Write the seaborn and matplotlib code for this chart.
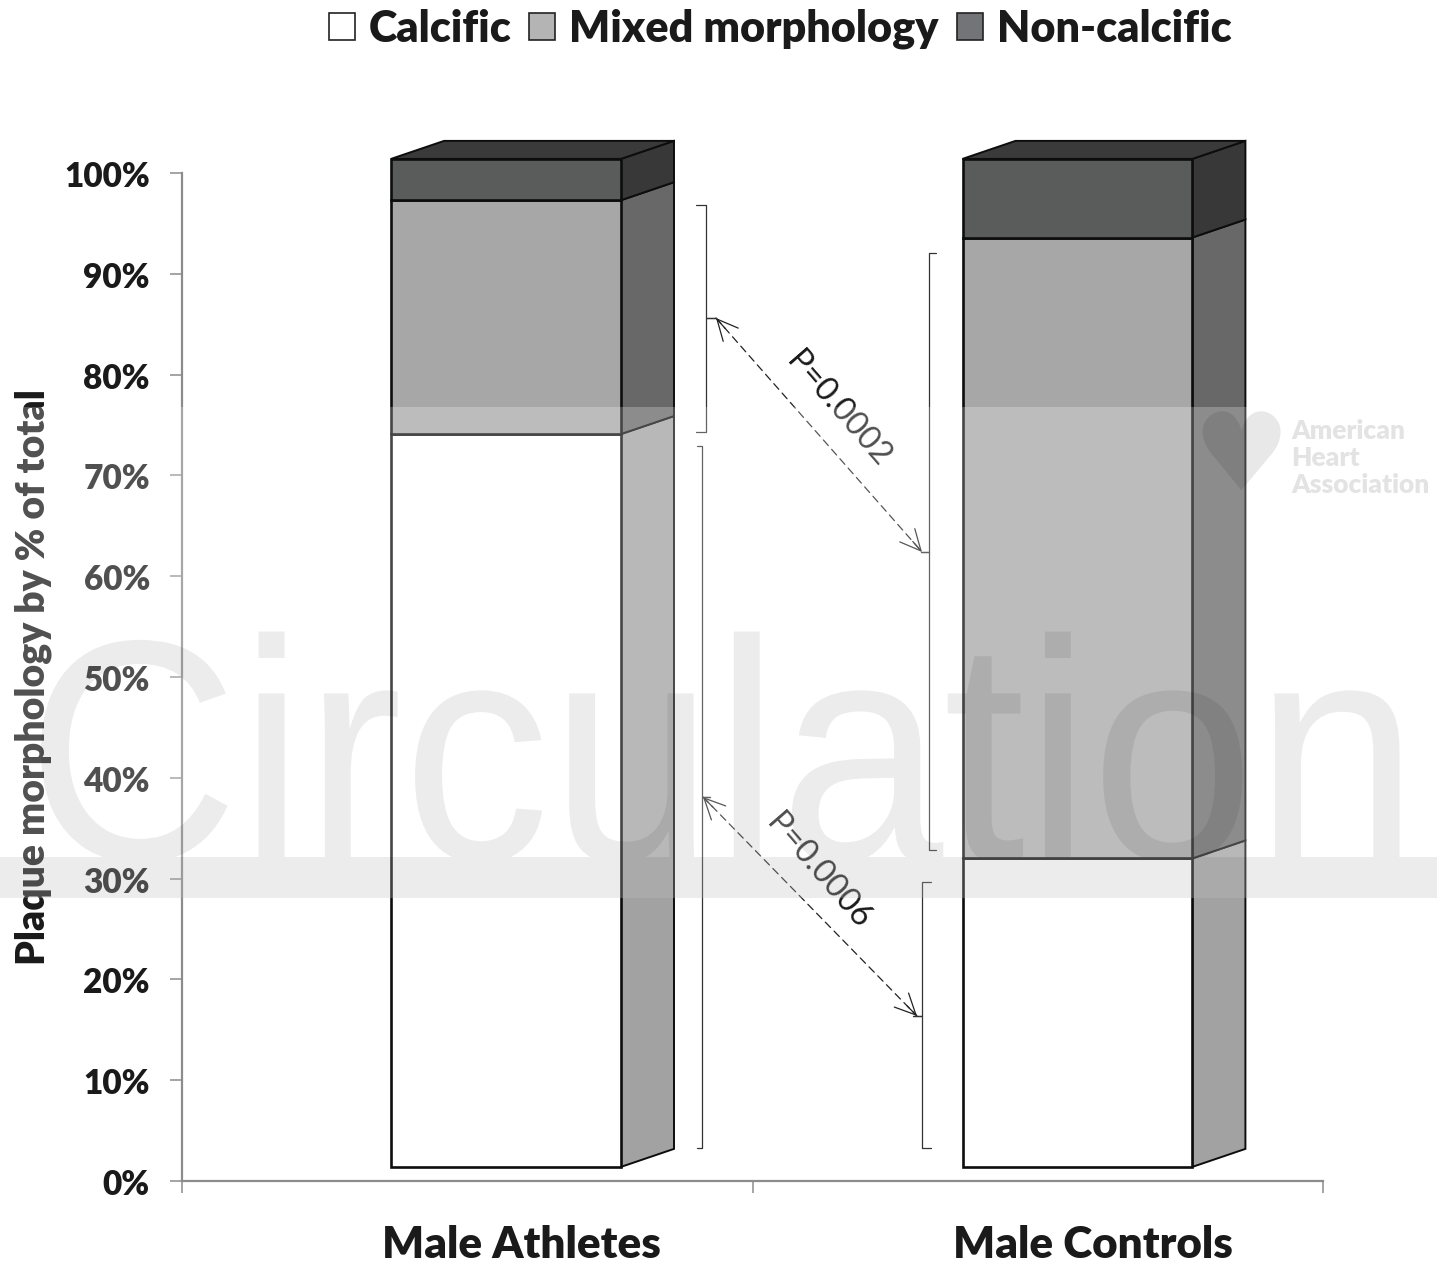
import matplotlib
matplotlib.use("Agg")
import matplotlib.pyplot as plt
import seaborn as sns
import pandas as pd
import numpy as np
from matplotlib.patches import Polygon, Rectangle, Patch
from matplotlib.patheffects import AbstractPathEffect
from matplotlib.transforms import Affine2D, Bbox, ScaledTranslation

# ---------- data ----------
groups = ["Male Athletes", "Male Controls"]
calcific = [72.7, 30.6]
mixed = [23.2, 61.6]
non_calcific = [4.1, 7.8]
series_names = ["Calcific", "Mixed morphology", "Non-calcific"]
y_ticks = list(range(0, 101, 10))
p_labels = ["P=0.0002", "P=0.0006"]
y_title = "Plaque morphology by % of total"

# ---------- styling ----------
W, H = 1437, 1264
L, R, T, B = 182, 1323, 173, 1181
front_colors = ["#ffffff", "#a7a7a7", "#5a5c5b"]
side_colors = ["#a2a2a2", "#686868", "#383838"]
legend_colors = ["#ffffff", "#b3b4b3", "#737477"]
top_color = "#3a3a3a"
axis_gray = "#8c8c8c"
ink = "#1a1a1a"
base = 1.4              # the 3-D floor lifts the front faces above zero
pos = [0.068, 1.0696]   # front-face centres on the category axis
bar_w = 0.403
dx, dy = 53 / 570.5, 18 / 10.08
heavy = "heavy"

sns.set_theme(style="white")
plt.rcParams["font.family"] = ["Lato", "DejaVu Sans"]

fig = plt.figure(figsize=(W / 100, H / 100), dpi=100, facecolor="white")
ax = fig.add_axes([L / W, 1 - B / H, (R - L) / W, (B - T) / H])

# ---------- stacked bars ----------
bottoms = [base, base]
for name, vals, fc, sc in zip(series_names, [calcific, mixed, non_calcific],
                              front_colors, side_colors):
    df = pd.DataFrame({"x": pos, "y": vals})
    sns.barplot(data=df, x="x", y="y", native_scale=True, width=bar_w / (pos[1] - pos[0]),
                bottom=bottoms, color=fc, saturation=1, edgecolor="#0d0d0d",
                linewidth=1.9, ax=ax, clip_on=False, zorder=3, errorbar=None)
    for p, b, v in zip(pos, bottoms, vals):
        xr = p + bar_w / 2
        ax.add_patch(Polygon([(xr, b), (xr + dx, b + dy), (xr + dx, b + v + dy), (xr, b + v)],
                             closed=True, fc=sc, ec="#0d0d0d", lw=1.4, clip_on=False, zorder=2))
    bottoms = [b + v for b, v in zip(bottoms, vals)]

for p, t in zip(pos, bottoms):
    xl, xr = p - bar_w / 2, p + bar_w / 2
    ax.add_patch(Polygon([(xl, t), (xl + dx, t + dy), (xr + dx, t + dy), (xr, t)],
                         closed=True, fc=top_color, ec="#0d0d0d", lw=1.4, clip_on=False, zorder=2))

# ---------- axes ----------
ax.set_xlim(-0.5, 1.5)
ax.set_ylim(0, 100)
ax.set_yticks(y_ticks)
ax.set_yticklabels([f"{v}%" for v in y_ticks], fontsize=24, fontweight=heavy, color=ink)
ax.set_xticks([-0.5, 0.5, 1.5])
ax.set_xticklabels([])
ax.set_xticks([p + 0.027 for p in pos], labels=groups, minor=True)
ax.tick_params(axis="x", which="minor", length=0, pad=32, labelsize=31.7, labelcolor=ink, bottom=False)
for lab in ax.get_xticklabels(minor=True):
    lab.set_fontweight(heavy)
ax.tick_params(axis="both", which="major", length=8.6, width=1.1, color=axis_gray, pad=14.5,
               left=True, bottom=True)
down = ScaledTranslation(0, -0.7 / 72, fig.dpi_scale_trans)
for lab in ax.get_yticklabels():
    lab.set_transform(lab.get_transform() + down)
ax.set_xlabel("")
ax.set_ylabel("")
fig.text(33 / W, 1 - 677 / H, y_title, rotation=90, ha="center", va="center",
         fontsize=28.2, fontweight=heavy, color=ink)
sns.despine(ax=ax)
for s in ("left", "bottom"):
    ax.spines[s].set_color(axis_gray)
    ax.spines[s].set_linewidth(1.6)
ax.patch.set_alpha(0)


# ---------- annotations in pixel space ----------
def P(x, y):
    return (x / W, 1 - y / H)


def bracket(xs, x_tick, top, bot, tip_x, tip_y):
    pts = [(x_tick, top), (xs, top), (xs, tip_y), (tip_x, tip_y), (xs, tip_y), (xs, bot), (x_tick, bot)]
    fig.add_artist(plt.Line2D(*zip(*[P(*q) for q in pts]), transform=fig.transFigure,
                              color="#333333", lw=0.9, zorder=5))


bracket(706, 696, 205, 432, 716, 318)
bracket(702, 697, 446, 1148, 710, 797)
bracket(929, 936, 253, 850, 921, 552)
bracket(922, 931, 882, 1148, 913, 1016)

for a, b in [((716, 318), (922, 552)), ((703, 797), (917, 1016))]:
    a, b = np.array(a, float), np.array(b, float)
    ax.annotate("", xy=P(*b), xytext=P(*a), xycoords="figure fraction", textcoords="figure fraction",
                arrowprops=dict(arrowstyle="-", color="#222222", lw=0.9, ls=(0, (6, 4)),
                                shrinkA=0, shrinkB=0), annotation_clip=False)
    u = (b - a) / np.linalg.norm(b - a)
    for tip, back in [(a, a + 14 * u), (b, b - 14 * u)]:
        ax.annotate("", xy=P(*tip), xytext=P(*back), xycoords="figure fraction", textcoords="figure fraction",
                    arrowprops=dict(arrowstyle="->,head_length=0.75,head_width=0.36", color="#222222", lw=0.9,
                                    shrinkA=0, shrinkB=0, mutation_scale=20), annotation_clip=False)

for label, c in zip(p_labels, [(838, 409), (818, 871)]):
    fig.text(*P(*c), label, rotation=-49, ha="center", va="center", rotation_mode="anchor",
             fontsize=23.5, color=ink, zorder=6)

# ---------- legend ----------
handles = [Patch(fc=c, ec="#222222", lw=1.2) for c in legend_colors]
fig.legend(handles, series_names, loc="center", bbox_to_anchor=P(780, 29), ncol=3, frameon=False,
           prop={"size": 31.1, "weight": heavy}, handlelength=0.6, handleheight=0.6,
           handletextpad=0.32, columnspacing=0.42, labelcolor=ink, borderpad=0, borderaxespad=0)

# ---------- publisher watermark over the whole picture ----------
fig.add_artist(Rectangle(P(0, 898), 1, (898 - 407) / H, transform=fig.transFigure,
                         fc="white", ec="none", alpha=0.24, zorder=10))
fig.add_artist(Rectangle(P(0, 898), 1, (898 - 857) / H, transform=fig.transFigure,
                         fc="black", ec="none", alpha=0.075, zorder=11))


class Squeeze(AbstractPathEffect):
    def __init__(self, sx, x0):
        super().__init__()
        self.sx, self.x0 = sx, x0

    def draw_path(self, renderer, gc, tpath, affine, rgbFace=None):
        stretch = Affine2D().translate(-self.x0, 0).scale(self.sx, 1).translate(self.x0, 0)
        renderer.draw_path(gc, tpath, affine + stretch, rgbFace)


wm = fig.text(*P(26, 860), "Circulation", fontsize=227, family="Liberation Sans",
              color="black", alpha=0.075, ha="left", va="baseline", zorder=11,
              path_effects=[Squeeze(0.935, 26)])
wm.set_clip_on(True)
wm.set_clip_box(Bbox([[0, H - 857], [W, H]]))

fig.text(*P(1241, 460), "\u2665", fontsize=78, family="DejaVu Sans", color="black", alpha=0.09,
         ha="center", va="center", zorder=11)
for line, yy in zip(["American", "Heart", "Association"], [431, 458, 485]):
    fig.text(*P(1291, yy), line, fontsize=19, fontweight=heavy, color="black", alpha=0.11,
             ha="left", va="center", zorder=11)

fig.savefig("out.png", dpi=100)
